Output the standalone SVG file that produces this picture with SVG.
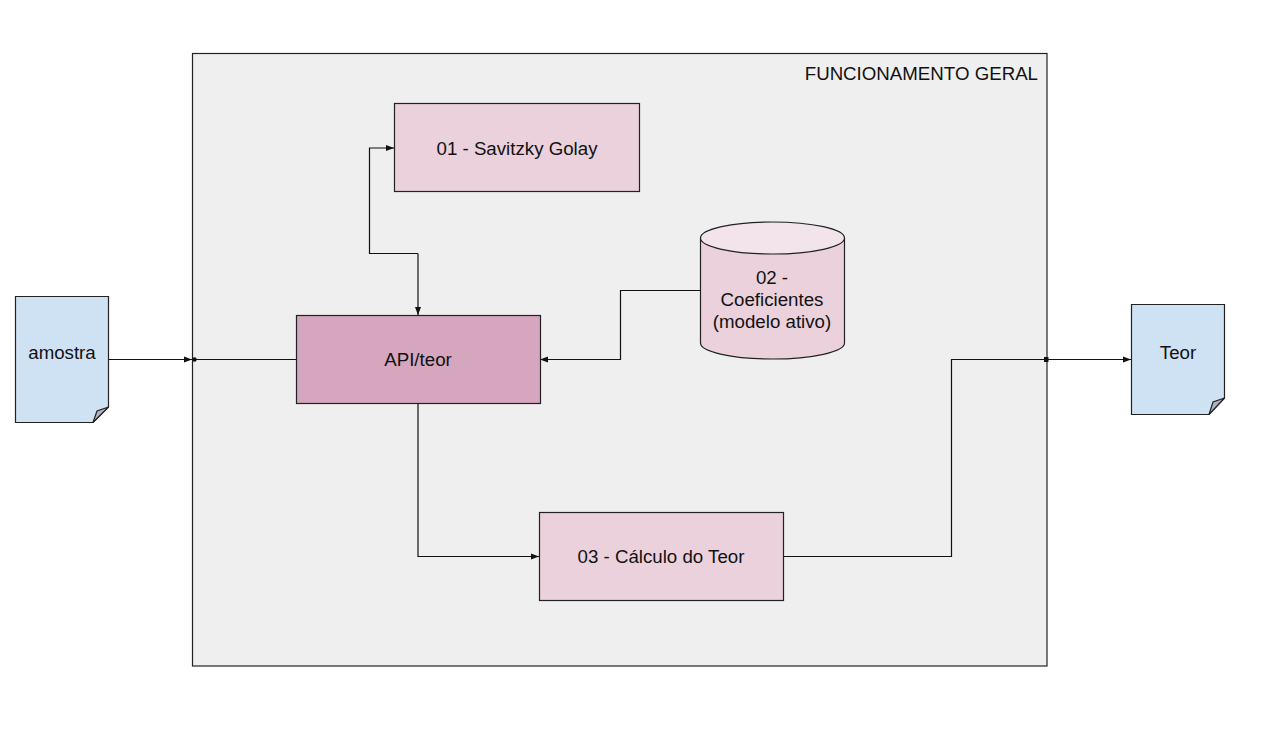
<svg xmlns="http://www.w3.org/2000/svg" width="1267" height="737" viewBox="0 0 1267 737">
<style>
text{font-family:"Liberation Sans",Arial,sans-serif;font-size:18.7px;fill:#111;text-anchor:middle}
.c{fill:none;stroke:#111;stroke-width:1.2}
.box{stroke:#222;stroke-width:1.2}
.doc{fill:#cfe2f3;stroke:#222;stroke-width:1.2}
.fold{fill:#aab4c2;stroke:#222;stroke-width:1.2}
</style>
<defs>
<marker id="ar" viewBox="0 0 8 8" refX="8" refY="4" markerWidth="8" markerHeight="8" markerUnits="userSpaceOnUse" orient="auto">
<path d="M0,1 L8,4 L0,7 Z" fill="#111"/>
</marker>
</defs>
<rect width="1267" height="737" fill="#fff"/>
<g id="frame">
<rect x="192.5" y="53.5" width="854.5" height="612.5" fill="#efefef" stroke="#222" stroke-width="1.2"/>
<text x="1038" y="80" style="text-anchor:end">FUNCIONAMENTO GERAL</text>
</g>
<g id="connectors">
<path class="c" d="M108,359.5 H192" marker-end="url(#ar)"/>
<path class="c" d="M192,359.5 H296"/>
<circle cx="194.5" cy="359.5" r="2.2" fill="#111"/>
<path class="c" d="M418,253.5 H369.5 V148 H394" marker-end="url(#ar)"/>
<path class="c" d="M418,253.5 V315" marker-end="url(#ar)"/>
<path class="c" d="M700,290.5 H620.5 V359.5 H540" marker-end="url(#ar)"/>
<path class="c" d="M418,403 V556.5 H539" marker-end="url(#ar)"/>
<path class="c" d="M783,556.5 H951.5 V359.5 H1047"/>
<rect x="1044" y="357" width="4.5" height="5" fill="#111"/>
<path class="c" d="M1047,359.5 H1131" marker-end="url(#ar)"/>
</g>
<g id="amostra">
<path class="doc" d="M15.5,296.5 H108.5 V407 L93,422.5 H15.5 Z"/>
<path class="fold" d="M93,422.5 L97,411 L108.5,407 Z"/>
<text x="62" y="359">amostra</text>
</g>
<g id="teor-doc">
<path class="doc" d="M1131.5,304.5 H1224.5 V398 L1209,414.5 H1131.5 Z"/>
<path class="fold" d="M1209,414.5 L1213,402 L1224.5,398 Z"/>
<text x="1178" y="359">Teor</text>
</g>
<g id="savitzky">
<rect class="box" x="394.5" y="103.5" width="245" height="88" fill="#ead1dc"/>
<text x="517" y="155">01 - Savitzky Golay</text>
</g>
<g id="api">
<rect class="box" x="296.5" y="315.5" width="244" height="88" fill="#d5a6bd"/>
<text x="418" y="366">API/teor</text>
</g>
<g id="coeficientes">
<path class="box" d="M700.5,238 V343 A72,16 0 0 0 844.5,343 V238" fill="#ead1dc"/>
<ellipse class="box" cx="772.5" cy="238" rx="72" ry="16" fill="#f3e3ea"/>
<text x="772" y="284">02 -</text>
<text x="772" y="306">Coeficientes</text>
<text x="772" y="328">(modelo ativo)</text>
</g>
<g id="calculo">
<rect class="box" x="539.5" y="512.5" width="244" height="88" fill="#ead1dc"/>
<text x="661" y="563">03 - Cálculo do Teor</text>
</g>
</svg>
